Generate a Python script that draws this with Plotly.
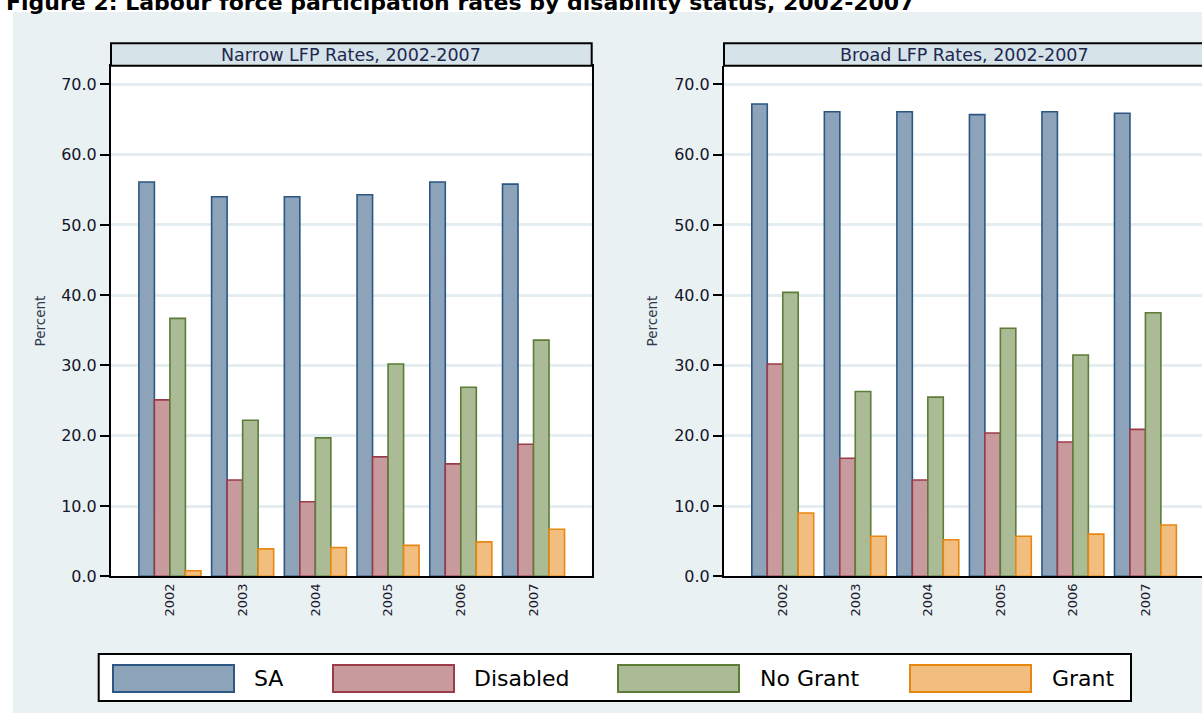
import plotly.graph_objects as go

# ---- data -------------------------------------------------------------
years = ["2002", "2003", "2004", "2005", "2006", "2007"]
series_names = ["SA", "Disabled", "No Grant", "Grant"]

narrow_sa = [56.1, 54.0, 54.0, 54.3, 56.1, 55.8]
narrow_disabled = [25.1, 13.7, 10.6, 17.0, 16.0, 18.8]
narrow_no_grant = [36.7, 22.2, 19.7, 30.2, 26.9, 33.6]
narrow_grant = [0.8, 3.9, 4.1, 4.4, 4.9, 6.7]

broad_sa = [67.2, 66.1, 66.1, 65.7, 66.1, 65.9]
broad_disabled = [30.2, 16.8, 13.7, 20.4, 19.1, 20.9]
broad_no_grant = [40.4, 26.3, 25.5, 35.3, 31.5, 37.5]
broad_grant = [9.0, 5.7, 5.2, 5.7, 6.0, 7.3]

y_ticks = [0, 10, 20, 30, 40, 50, 60, 70]
panel_titles = ["Narrow LFP Rates, 2002-2007", "Broad LFP Rates, 2002-2007"]
figure_title = "Figure 2: Labour force participation rates by disability status, 2002-2007"

# ---- styling ----------------------------------------------------------
W, H = 1202, 724          # canvas size in page pixels
REF_H = 713               # vertical layout grid the positions below are given in
FONT = "DejaVu Sans"
fills = ["#8ca3b9", "#c89a9e", "#aabb96", "#f1be80"]
edges = ["#2c5784", "#9a3c48", "#5c7c37", "#e8870f"]
region_bg = "#e9f1f3"
strip_bg = "#d6e3e9"
grid_col = "#e4eef1"


def px(x):
    return x / W


def py(y):
    return 1 - y / REF_H


panels = [
    dict(x="x", y="y", values=[narrow_sa, narrow_disabled, narrow_no_grant, narrow_grant]),
    dict(x="x2", y="y2", values=[broad_sa, broad_disabled, broad_no_grant, broad_grant]),
]

fig = go.Figure()
for panel in panels:
    for name, vals, fc, ec in zip(series_names, panel["values"], fills, edges):
        fig.add_trace(go.Bar(
            x=years, y=vals, name=name,
            xaxis=panel["x"], yaxis=panel["y"],
            marker=dict(color=fc, line=dict(color=ec, width=1.6)),
            showlegend=False, hoverinfo="x+y+name",
        ))

y_dom = [py(575.5), py(66)]
common_x = dict(type="category", showline=True, linecolor="black", linewidth=2,
                ticks="", tickangle=-90, showgrid=False, zeroline=False,
                tickfont=dict(family=FONT, size=13, color="#1a1a2e"), fixedrange=True)
common_y = dict(range=[0, 72.6], tickvals=y_ticks, tickformat=".1f",
                ticks="outside", ticklen=9, tickwidth=1.5, tickcolor="black",
                showline=True, linecolor="black", linewidth=2,
                showgrid=True, gridcolor=grid_col, gridwidth=3, zeroline=False,
                tickfont=dict(family=FONT, size=16, color="#15152a"), fixedrange=True)

fig.update_layout(
    width=W, height=H,
    margin=dict(l=0, r=0, t=0, b=0),
    paper_bgcolor=region_bg, plot_bgcolor="white",
    barmode="group", bargap=0.147, bargroupgap=0,
    showlegend=False,
    xaxis=dict(common_x, domain=[px(111), px(591.7)], anchor="y", range=[-0.81, 5.80], mirror=True),
    yaxis=dict(common_y, domain=y_dom, anchor="x", mirror=True),
    xaxis2=dict(common_x, domain=[px(724), 1.0], anchor="y2", range=[-0.81, 5.78]),
    yaxis2=dict(common_y, domain=y_dom, anchor="x2"),
)

shapes = [
    # white page margin above and left of the graph region
    dict(type="rect", xref="paper", yref="paper", x0=0, x1=1, y0=py(12), y1=1,
         fillcolor="white", line=dict(width=0), layer="below"),
    dict(type="rect", xref="paper", yref="paper", x0=0, x1=px(13), y0=0, y1=1,
         fillcolor="white", line=dict(width=0), layer="below"),
]
annotations = []

# panel title strips (the right one runs on past the page edge)
strip_spans = [(111, 591.7), (724, 1204.6)]
for (x0, x1), title in zip(strip_spans, panel_titles):
    shapes.append(dict(type="rect", xref="paper", yref="paper",
                       x0=px(x0), x1=px(min(x1, W)), y0=py(65.7), y1=py(43.3),
                       fillcolor=strip_bg, line=dict(width=0)))
    right = x1 if x1 <= W else W
    path = (f"M{px(right)},{py(43.3)} L{px(x0)},{py(43.3)} "
            f"L{px(x0)},{py(65.7)} L{px(right)},{py(65.7)}")
    if x1 <= W:
        path += " Z"
    shapes.append(dict(type="path", xref="paper", yref="paper", path=path,
                       line=dict(color="black", width=2)))
    annotations.append(dict(xref="paper", yref="paper", x=px((x0 + x1) / 2),
                            y=py(54.5), text=title, showarrow=False,
                            xanchor="center", yanchor="middle",
                            font=dict(family=FONT, size=17.5, color="#1e2850")))

# y-axis titles
for xc in (40, 652):
    annotations.append(dict(xref="paper", yref="paper", x=px(xc), y=py(321),
                            text="Percent", textangle=-90, showarrow=False,
                            xanchor="center", yanchor="middle",
                            font=dict(family=FONT, size=13.5, color="#2d3b4e")))

# legend box
shapes.append(dict(type="rect", xref="paper", yref="paper",
                   x0=px(98.7), x1=px(1131), y0=py(700), y1=py(653),
                   fillcolor="white", line=dict(color="black", width=2)))
swatch_x = [113, 333, 618, 910]
label_x = [252, 471.5, 758, 1050]
for name, fc, ec, sx, lx in zip(series_names, fills, edges, swatch_x, label_x):
    shapes.append(dict(type="rect", xref="paper", yref="paper",
                       x0=px(sx), x1=px(sx + 121), y0=py(691), y1=py(664),
                       fillcolor=fc, line=dict(color=ec, width=2)))
    annotations.append(dict(xref="paper", yref="paper", x=px(lx), y=py(677.5),
                            text=name, showarrow=False, xanchor="left", yanchor="middle",
                            font=dict(family=FONT, size=22, color="black")))

# figure caption along the top edge
annotations.append(dict(xref="paper", yref="paper", x=px(4), y=py(2.5),
                        text="<b>" + figure_title + "</b>", showarrow=False,
                        xanchor="left", yanchor="middle",
                        font=dict(family=FONT, size=22, color="black")))

fig.update_layout(shapes=shapes, annotations=annotations)
fig.write_html(
    "out.html",
    post_script=("document.body.style.margin='0';"
                 "document.documentElement.style.overflow='hidden';"
                 f"document.body.style.background='{region_bg}';"),
)
